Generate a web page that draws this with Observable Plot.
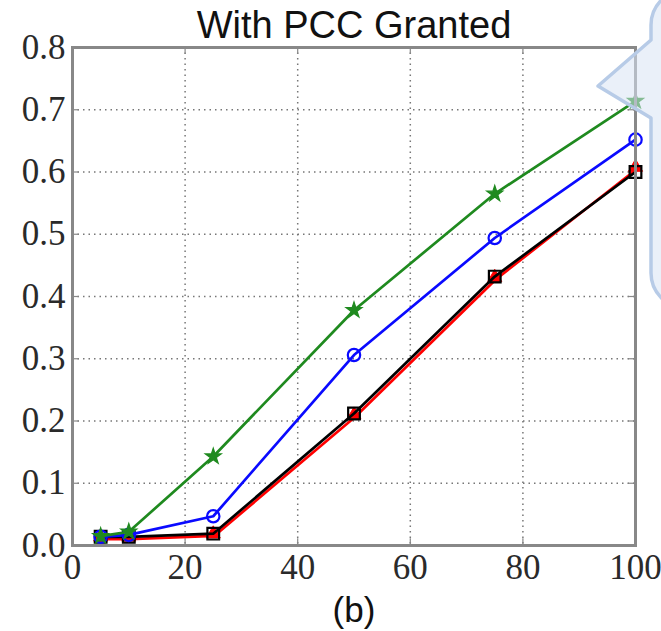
<!DOCTYPE html>
<html>
<head>
<meta charset="utf-8">
<script src="https://cdn.jsdelivr.net/npm/d3@7"></script>
<script src="https://cdn.jsdelivr.net/npm/@observablehq/plot@0.6"></script>
<style>
  html, body { margin: 0; padding: 0; background: #fff; }
  #wrap { position: relative; width: 661px; height: 631px; overflow: hidden; }
  #bubble { position: absolute; left: 0; top: 0; pointer-events: none; }
</style>
</head>
<body>
<div id="wrap"></div>
<script>
// ---- data ----
const xValues   = [5, 10, 25, 50, 75, 100];
const greenStar = [0.015, 0.022, 0.143, 0.378, 0.565, 0.714];
const blueCirc  = [0.014, 0.017, 0.047, 0.306, 0.494, 0.652];
const redTri    = [0.012, 0.012, 0.017, 0.208, 0.429, 0.606];
const blackSq   = [0.014, 0.014, 0.019, 0.212, 0.432, 0.600];
const xTicks = [0, 20, 40, 60, 80, 100];
const yTicks = [0.0, 0.1, 0.2, 0.3, 0.4, 0.5, 0.6, 0.7, 0.8];
const titleText = "With PCC Granted";
const xLabelText = "(b)";

const rows = (ys) => xValues.map((x, i) => ({x, y: ys[i]}));
const red = rows(redTri), black = rows(blackSq), blue = rows(blueCirc), green = rows(greenStar);

const serif = "'Liberation Serif', 'Times New Roman', serif";
const sans = "'Liberation Sans', Arial, Helvetica, sans-serif";

const chart = Plot.plot({
  width: 661,
  height: 631,
  marginLeft: 72,
  marginRight: 26,
  marginTop: 47,
  marginBottom: 86,
  style: {fontFamily: serif, background: "#fff", color: "#222", overflow: "visible"},
  x: {domain: [0, 100], ticks: xTicks, tickFormat: d => String(d)},
  y: {domain: [0, 0.8], ticks: yTicks, tickFormat: d3.format(".1f")},
  marks: [
    Plot.gridX(xTicks, {stroke: "#777", strokeOpacity: 1, strokeWidth: 1.5, strokeDasharray: "1.5,4"}),
    Plot.gridY(yTicks, {stroke: "#777", strokeOpacity: 1, strokeWidth: 1.5, strokeDasharray: "1.5,4"}),
    Plot.ruleY(yTicks, {x1: 0, x2: 1.2, stroke: "#888", strokeWidth: 1.2}),
    Plot.ruleY(yTicks, {x1: 98.8, x2: 100, stroke: "#888", strokeWidth: 1.2}),
    Plot.ruleX(xTicks, {y1: 0, y2: 0.011, stroke: "#888", strokeWidth: 1.2}),
    Plot.ruleX(xTicks, {y1: 0.789, y2: 0.8, stroke: "#888", strokeWidth: 1.2}),
    Plot.axisX(xTicks, {tickSize: 0, tickPadding: 9, fontSize: 35, fill: "#2a2a2a", label: null}),
    Plot.axisY(yTicks, {tickSize: 0, tickPadding: 7, fontSize: 35, fill: "#2a2a2a", label: null, tickFormat: d3.format(".1f")}),
    // series (red first, black over it, then blue, green on top)
    Plot.line(red, {x: "x", y: "y", stroke: "#ff0000", strokeWidth: 2.7, dx: 1, dy: 1}),
    Plot.dot(red, {x: "x", y: "y", symbol: "triangle", r: 5.2, fill: "#ff0000", stroke: "#ff0000", strokeWidth: 1, dy: -1}),
    Plot.line(black, {x: "x", y: "y", stroke: "#000", strokeWidth: 2.7}),
    Plot.dot(black, {x: "x", y: "y", symbol: "square", r: 6.6, fill: "none", stroke: "#000", strokeWidth: 2.2}),
    Plot.line(blue, {x: "x", y: "y", stroke: "#0a0aff", strokeWidth: 2.7}),
    Plot.dot(blue, {x: "x", y: "y", symbol: "circle", r: 6.2, fill: "none", stroke: "#0a0aff", strokeWidth: 2.2}),
    Plot.line(green, {x: "x", y: "y", stroke: "#1f8a1f", strokeWidth: 2.7}),
    Plot.dot(green, {x: "x", y: "y", symbol: "star", r: 5, fill: "#1f8a1f", stroke: "#1f8a1f", strokeWidth: 1.2}),
    Plot.frame({stroke: "#888", strokeWidth: 3}),
    Plot.text([titleText], {frameAnchor: "top", dy: -10, lineAnchor: "bottom", fontSize: 38, fontFamily: sans, fill: "#111"}),
    Plot.text([xLabelText], {frameAnchor: "bottom", dy: 65, lineAnchor: "middle", fontSize: 35, fontFamily: sans, fill: "#111"})
  ]
});
document.getElementById("wrap").appendChild(chart);

// decorative speech-bubble callout overlapping the top-right corner
const ns = "http://www.w3.org/2000/svg";
const ov = document.createElementNS(ns, "svg");
ov.setAttribute("id", "bubble");
ov.setAttribute("width", 661);
ov.setAttribute("height", 631);
const p = document.createElementNS(ns, "path");
p.setAttribute("d", "M 760 -10 L 686 -10 A 35 35 0 0 0 651 25 L 651 40 L 598 86 L 651 118 L 651 273 A 35 35 0 0 0 686 308 L 760 308 Z");
p.setAttribute("fill", "#d9e4f4");
p.setAttribute("fill-opacity", "0.55");
p.setAttribute("stroke", "#b7cbe7");
p.setAttribute("stroke-width", "3.5");
p.setAttribute("stroke-linejoin", "round");
ov.appendChild(p);
document.getElementById("wrap").appendChild(ov);
</script>
</body>
</html>
